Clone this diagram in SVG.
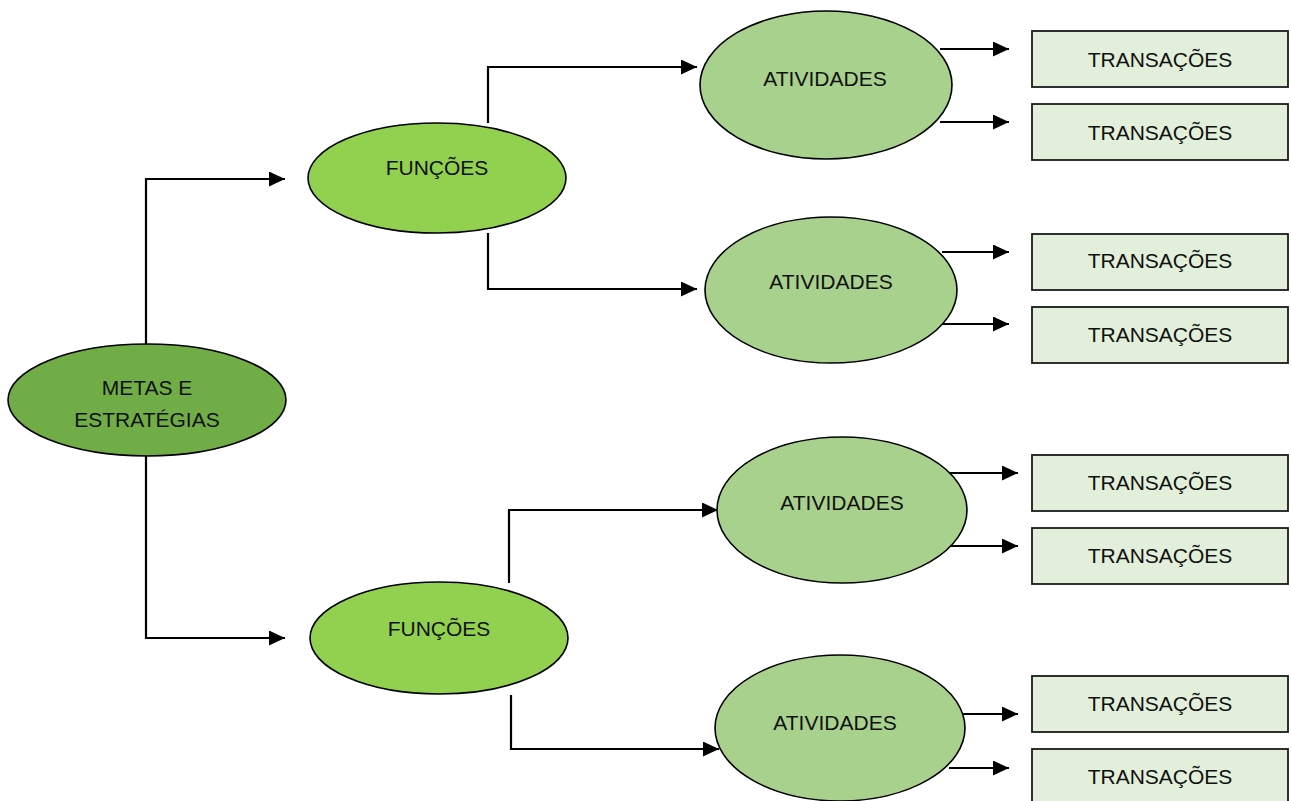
<svg xmlns="http://www.w3.org/2000/svg" width="1291" height="801" viewBox="0 0 1291 801">
  <style>
    .node { stroke: #000; stroke-width: 1.6; }
    .goal { fill: #70ad47; }
    .func { fill: #92d050; }
    .act { fill: #a9d18e; }
    .tx { fill: #e2efda; stroke: #1a1a1a; stroke-width: 1.8; }
    .label { font-family: "Liberation Sans", Arial, sans-serif; font-size: 21px; fill: #111; text-anchor: middle; }
    .link { fill: none; stroke: #000; stroke-width: 2.2; marker-end: url(#arrow); }
  </style>
  <defs>
    <marker id="arrow" markerUnits="userSpaceOnUse" markerWidth="17" markerHeight="15" refX="16" refY="7.5" orient="auto">
      <path d="M0,0 L16,7.5 L0,15 Z" fill="#000"/>
    </marker>
  </defs>
  <rect width="1291" height="801" fill="#fff"/>

  <!-- connectors -->
  <g id="connectors">
    <polyline class="link" points="146,344 146,179 285,179"/>
    <polyline class="link" points="146,456 146,638 285,638"/>
    <polyline class="link" points="488,123 488,67 697,67"/>
    <polyline class="link" points="488,233 488,289 697,289"/>
    <polyline class="link" points="509,583 509,510 718,510"/>
    <polyline class="link" points="511,695 511,749 719,749"/>
    <line class="link" x1="940" y1="49" x2="1009" y2="49"/>
    <line class="link" x1="940" y1="122" x2="1009" y2="122"/>
    <line class="link" x1="942" y1="252" x2="1009" y2="252"/>
    <line class="link" x1="942" y1="324" x2="1009" y2="324"/>
    <line class="link" x1="947" y1="473" x2="1018" y2="473"/>
    <line class="link" x1="947" y1="546" x2="1018" y2="546"/>
    <line class="link" x1="949" y1="714" x2="1018" y2="714"/>
    <line class="link" x1="949" y1="768" x2="1009" y2="768"/>
  </g>

  <!-- root -->
  <g id="metas">
    <ellipse class="node goal" cx="147" cy="400" rx="139" ry="56"/>
    <text class="label" x="147" y="395">METAS E</text>
    <text class="label" x="147" y="427">ESTRATÉGIAS</text>
  </g>

  <!-- functions -->
  <g id="funcoes-1">
    <ellipse class="node func" cx="437" cy="178" rx="129" ry="55"/>
    <text class="label" x="437" y="175">FUNÇÕES</text>
  </g>
  <g id="funcoes-2">
    <ellipse class="node func" cx="439" cy="638" rx="129" ry="56"/>
    <text class="label" x="439" y="636">FUNÇÕES</text>
  </g>

  <!-- activities -->
  <g id="atividades-1">
    <ellipse class="node act" cx="826" cy="85" rx="126" ry="74"/>
    <text class="label" x="825" y="86">ATIVIDADES</text>
  </g>
  <g id="atividades-2">
    <ellipse class="node act" cx="831" cy="290" rx="126" ry="73"/>
    <text class="label" x="831" y="289">ATIVIDADES</text>
  </g>
  <g id="atividades-3">
    <ellipse class="node act" cx="842" cy="510" rx="125" ry="73"/>
    <text class="label" x="842" y="510">ATIVIDADES</text>
  </g>
  <g id="atividades-4">
    <ellipse class="node act" cx="840" cy="728" rx="125" ry="73"/>
    <text class="label" x="835" y="730">ATIVIDADES</text>
  </g>

  <!-- transactions -->
  <g id="transacoes-1">
    <rect class="tx" x="1032" y="31" width="256" height="56"/>
    <text class="label" x="1160" y="67">TRANSAÇÕES</text>
  </g>
  <g id="transacoes-2">
    <rect class="tx" x="1032" y="104" width="256" height="56"/>
    <text class="label" x="1160" y="140">TRANSAÇÕES</text>
  </g>
  <g id="transacoes-3">
    <rect class="tx" x="1032" y="234" width="256" height="56"/>
    <text class="label" x="1160" y="268">TRANSAÇÕES</text>
  </g>
  <g id="transacoes-4">
    <rect class="tx" x="1032" y="307" width="256" height="56"/>
    <text class="label" x="1160" y="342">TRANSAÇÕES</text>
  </g>
  <g id="transacoes-5">
    <rect class="tx" x="1032" y="455" width="256" height="56"/>
    <text class="label" x="1160" y="490">TRANSAÇÕES</text>
  </g>
  <g id="transacoes-6">
    <rect class="tx" x="1032" y="528" width="256" height="56"/>
    <text class="label" x="1160" y="563">TRANSAÇÕES</text>
  </g>
  <g id="transacoes-7">
    <rect class="tx" x="1032" y="676" width="256" height="56"/>
    <text class="label" x="1160" y="711">TRANSAÇÕES</text>
  </g>
  <g id="transacoes-8">
    <rect class="tx" x="1032" y="749" width="256" height="60"/>
    <text class="label" x="1160" y="784">TRANSAÇÕES</text>
  </g>
</svg>
